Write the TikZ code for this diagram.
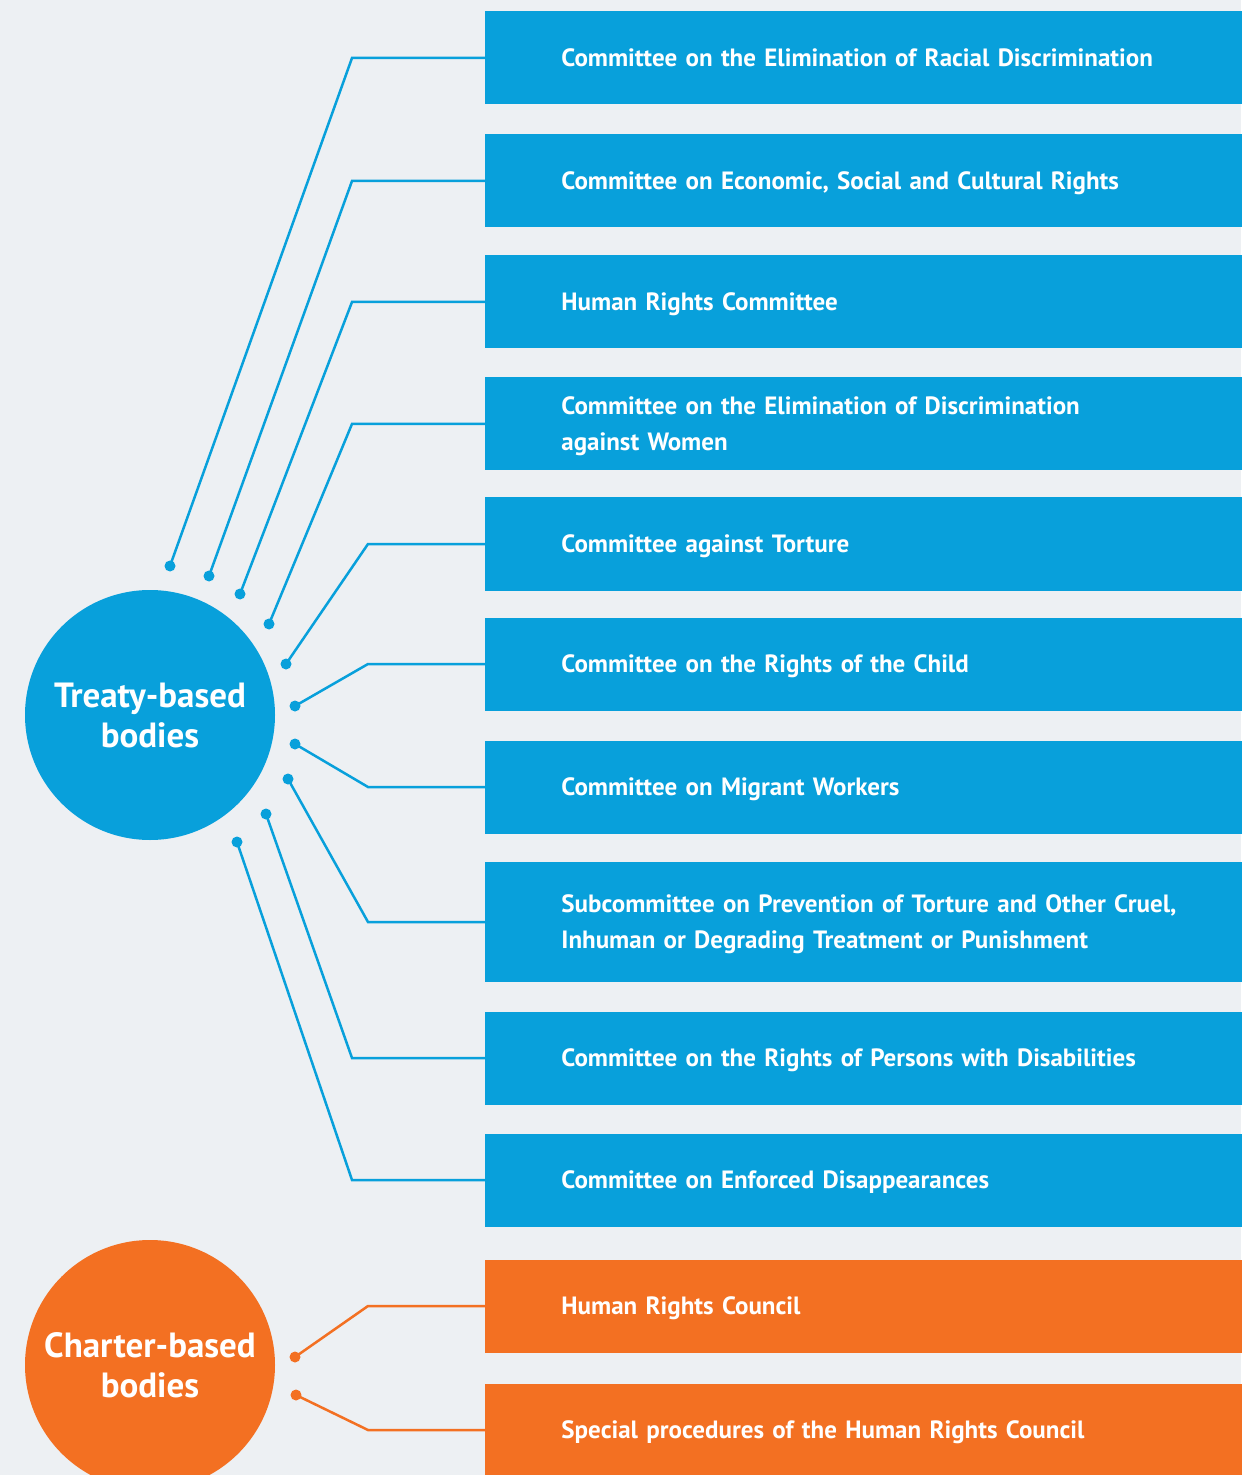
\documentclass[tikz,border=0pt]{standalone}
\usepackage{fontspec}
\setmainfont{PT Sans}
\definecolor{tblue}{HTML}{08A0DB}
\definecolor{torange}{HTML}{F37022}
\definecolor{pagebg}{HTML}{EDF0F3}
\tikzset{
  body/.style={rectangle, anchor=west, text=white, font=\bfseries\fontsize{12.5}{18}\selectfont,
    align=left, text width=340pt, text depth=0pt, inner xsep=38pt, minimum height=46.5pt},
  twolines/.style={text depth=18pt},
  hub/.style={circle, text=white, font=\bfseries\fontsize{17.5}{20}\selectfont,
    align=center, minimum size=125pt, inner sep=0pt},
  tdot/.style={circle, inner sep=0pt, minimum size=5.5pt},
  link/.style={line width=1.25pt}
}
\begin{document}
\begin{tikzpicture}[x=0.5pt, y=-0.5pt]
    % background
    \fill[pagebg] (0,0) rectangle (1241,1475);
    \useasboundingbox (0,0) rectangle (1241,1475);

    % treaty-based bodies
    \node[hub, fill=tblue] (treaty) at (150,715) {Treaty-based\\bodies};
    \node[body, fill=tblue] (b1) at (485,58) {Committee on the Elimination of Racial Discrimination};
    \node[body, fill=tblue] (b2) at (485,181) {Committee on Economic, Social and Cultural Rights};
    \node[body, fill=tblue] (b3) at (485,302) {Human Rights Committee};
    \node[body, twolines, fill=tblue] (b4) at (485,424) {Committee on the Elimination of Discrimination\\against Women};
    \node[body, fill=tblue] (b5) at (485,544) {Committee against Torture};
    \node[body, fill=tblue] (b6) at (485,664) {Committee on the Rights of the Child};
    \node[body, fill=tblue] (b7) at (485,787) {Committee on Migrant Workers};
    \node[body, twolines, fill=tblue, minimum height=60pt] (b8) at (485,922) {Subcommittee on Prevention of Torture and Other Cruel,\\Inhuman or Degrading Treatment or Punishment};
    \node[body, fill=tblue] (b9) at (485,1058) {Committee on the Rights of Persons with Disabilities};
    \node[body, fill=tblue] (b10) at (485,1180) {Committee on Enforced Disappearances};

    % charter-based bodies
    \node[hub, fill=torange] (charter) at (150,1365) {Charter-based\\bodies};
    \node[body, fill=torange] (b11) at (485,1306) {Human Rights Council};
    \node[body, fill=torange] (b12) at (485,1430) {Special procedures of the Human Rights Council};

    % dots round the hubs
    \foreach \n/\px/\py in {1/170/566, 2/209/576, 3/240/594, 4/269/624, 5/286/664,
                            6/295/706, 7/295/744, 8/288/779, 9/266/814, 10/237/842}
      \node[tdot, fill=tblue] (d\n) at (\px,\py) {};
    \node[tdot, fill=torange] (d11) at (295,1357) {};
    \node[tdot, fill=torange] (d12) at (296,1395) {};

    % links from dots to boxes
    \foreach \n/\ex in {1/352, 2/352, 3/352, 4/352, 5/368, 6/368, 7/368, 8/368, 9/352, 10/352}
      \draw[link, tblue] (d\n.center) -- (\ex,0 |- b\n.west) -- (b\n.west);
    \foreach \n in {11,12}
      \draw[link, torange] (d\n.center) -- (368,0 |- b\n.west) -- (b\n.west);
\end{tikzpicture}
\end{document}
